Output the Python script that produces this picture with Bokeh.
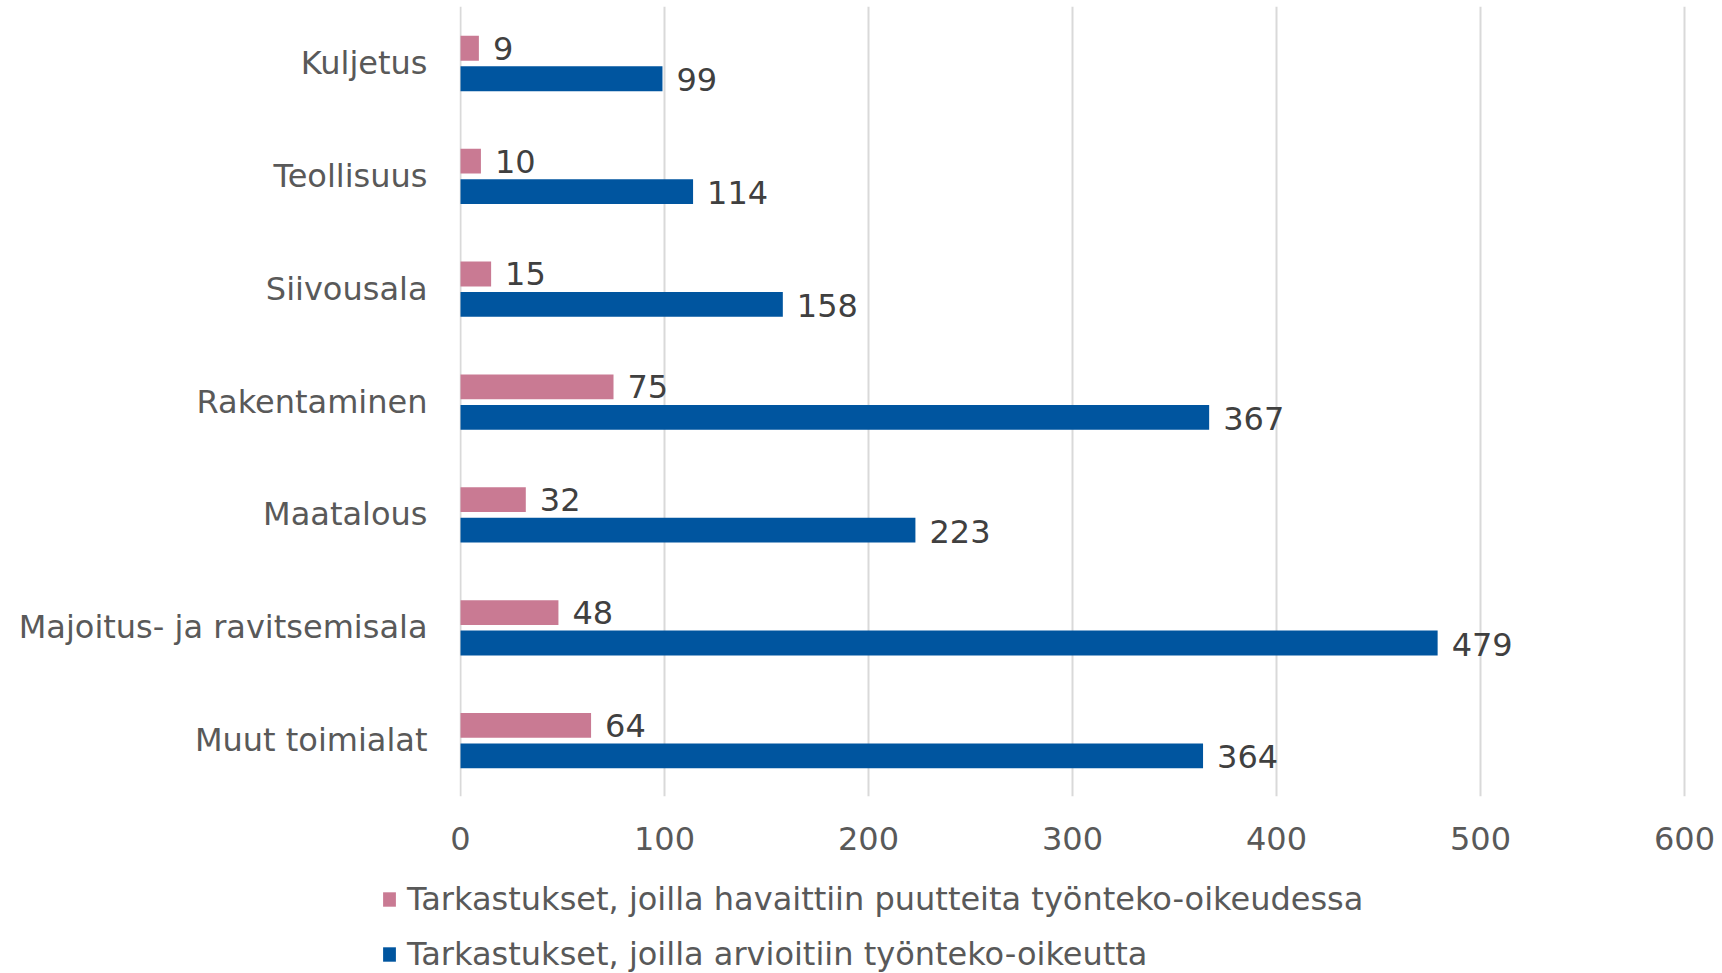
from bokeh.plotting import figure
from bokeh.layouts import column, row
from bokeh.models import FactorRange, Range1d, FixedTicker, Legend, LegendItem, ColumnDataSource
from bokeh.transform import dodge
from bokeh.core.properties import value
from bokeh.embed import file_html
from bokeh.resources import INLINE

categories = ["Kuljetus", "Teollisuus", "Siivousala", "Rakentaminen", "Maatalous",
              "Majoitus- ja ravitsemisala", "Muut toimialat"]
puutteita = [9, 10, 15, 75, 32, 48, 64]
arvioitiin = [99, 114, 158, 367, 223, 479, 364]
series_names = ["Tarkastukset, joilla havaittiin puutteita työnteko-oikeudessa",
                "Tarkastukset, joilla arvioitiin työnteko-oikeutta"]
x_ticks = [0, 100, 200, 300, 400, 500, 600]

PINK = "#C97A93"
BLUE = "#00559F"
FONT = "DejaVu Sans"

src = ColumnDataSource(dict(
    cat=categories,
    v1=puutteita,
    v2=arvioitiin,
    l1=[str(v) for v in puutteita],
    l2=[str(v) for v in arvioitiin],
))

p = figure(width=1722, height=865,
           y_range=FactorRange(*list(reversed(categories))),
           x_range=Range1d(-0.5, 601),
           output_backend="svg", toolbar_location=None,
           min_border_left=459, min_border_right=36,
           min_border_top=6, min_border_bottom=69)
p.y_range.range_padding = 0
p.outline_line_color = None
p.background_fill_color = "white"
p.border_fill_color = "white"

p.ygrid.grid_line_color = None
p.xgrid.grid_line_color = "#D9D9D9"
p.xgrid.grid_line_width = 2

p.xaxis.ticker = FixedTicker(ticks=x_ticks)
p.xaxis.axis_line_color = None
p.xaxis.major_tick_line_color = None
p.xaxis.minor_tick_line_color = None
p.xaxis.major_label_text_font = FONT
p.xaxis.major_label_text_font_size = "32px"
p.xaxis.major_label_text_color = "#595959"
p.xaxis.major_label_standoff = 24

p.yaxis.axis_line_color = None
p.yaxis.major_tick_line_color = None
p.yaxis.minor_tick_line_color = None
p.yaxis.major_label_text_font = FONT
p.yaxis.major_label_text_font_size = "32px"
p.yaxis.major_label_text_color = "#595959"
p.yaxis.major_label_standoff = 26

r1 = p.hbar(y=dodge("cat", 0.13, range=p.y_range), right="v1", left=0, height=0.22,
            source=src, fill_color=PINK, line_color=None)
r2 = p.hbar(y=dodge("cat", -0.14, range=p.y_range), right="v2", left=0, height=0.22,
            source=src, fill_color=BLUE, line_color=None)

p.text(x="v1", y=dodge("cat", 0.13, range=p.y_range), text="l1", source=src,
       x_offset=14, text_baseline="middle", text_align="left",
       text_font=value(FONT), text_font_size="32px", text_color="#404040")
p.text(x="v2", y=dodge("cat", -0.14, range=p.y_range), text="l2", source=src,
       x_offset=14, y_offset=1, text_baseline="middle", text_align="left",
       text_font=value(FONT), text_font_size="32px", text_color="#404040")

# legend panel below the chart
lg = figure(width=1722, height=108, x_range=Range1d(0, 1), y_range=Range1d(0, 1),
            output_backend="svg", toolbar_location=None,
            min_border_left=0, min_border_right=0, min_border_top=0, min_border_bottom=0)
lg.axis.visible = False
lg.grid.visible = False
lg.outline_line_color = None
lg.background_fill_color = "white"
lg.border_fill_color = "white"
proxy = ColumnDataSource(dict(y=[-5], right=[0]))
g1 = lg.hbar(y="y", right="right", height=0.1, source=proxy, fill_color=PINK, line_color=None)
g2 = lg.hbar(y="y", right="right", height=0.1, source=proxy, fill_color=BLUE, line_color=None)

legend = Legend(items=[LegendItem(label=series_names[0], renderers=[g1]),
                       LegendItem(label=series_names[1], renderers=[g2])],
                location=(381, 0), orientation="vertical",
                glyph_width=16, glyph_height=18, label_standoff=10,
                spacing=17, padding=0, margin=0,
                border_line_color=None, background_fill_alpha=0,
                label_text_font=FONT, label_text_font_size="32px",
                label_text_color="#595959")
lg.add_layout(legend, "center")

layout = column(p, row(lg, spacing=0), spacing=0)
open("out.html", "w").write(file_html(layout, INLINE))
